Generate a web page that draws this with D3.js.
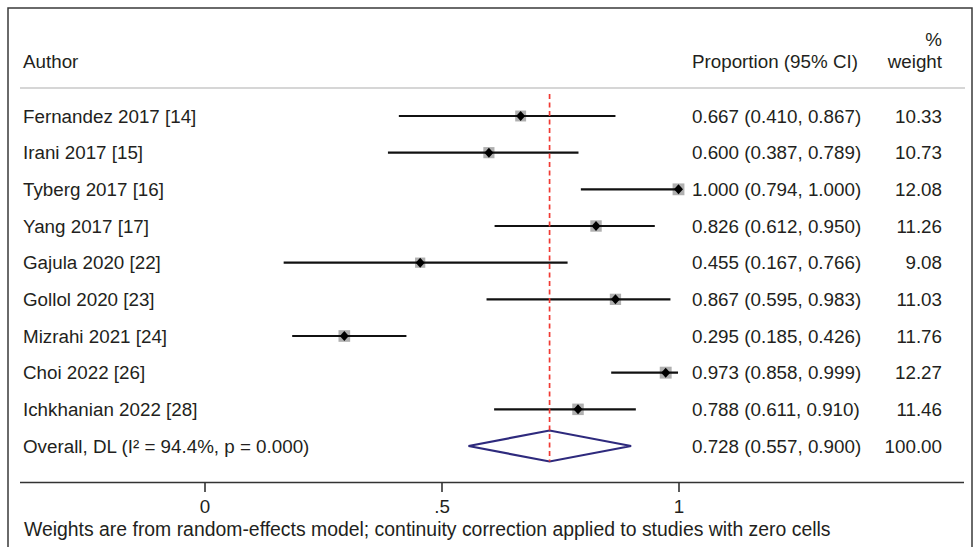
<!DOCTYPE html>
<html><head><meta charset="utf-8">
<script src="https://cdn.jsdelivr.net/npm/d3@7"></script>
<style>
body{margin:0;background:#fff;}
text{font-family:"Liberation Sans",Arial,sans-serif;fill:#231f20;}
</style></head>
<body><svg id="c" width="976" height="547"></svg>
<script>
const authors = ["Fernandez 2017 [14]","Irani 2017 [15]","Tyberg 2017 [16]","Yang 2017 [17]","Gajula 2020 [22]","Gollol 2020 [23]","Mizrahi 2021 [24]","Choi 2022 [26]","Ichkhanian 2022 [28]"];
const estimates = [0.667,0.600,1.000,0.826,0.455,0.867,0.295,0.973,0.788];
const lower = [0.410,0.387,0.794,0.612,0.167,0.595,0.185,0.858,0.611];
const upper = [0.867,0.789,1.000,0.950,0.766,0.983,0.426,0.999,0.910];
const weights = [10.33,10.73,12.08,11.26,9.08,11.03,11.76,12.27,11.46];
const overallLabel = "Overall, DL (I\u00B2 = 94.4%, p = 0.000)";
const overall = {est:0.728, lo:0.557, hi:0.900, w:100.00};
const xTicks = [0, 0.5, 1];
const xTickLabels = ["0", ".5", "1"];
const footnote = "Weights are from random-effects model; continuity correction applied to studies with zero cells";

const svg = d3.select("#c");
const fs = 18.8;
const f3 = d3.format(".3f"), f2 = d3.format(".2f");

// frame
svg.append("path").attr("d","M8,560 L8,8 L972,8 L972,560")
  .attr("fill","none").attr("stroke","#3a3a3a").attr("stroke-width",1.5);

const x = d3.scaleLinear().domain([0,1]).range([204.5,678.5]);
const rows = authors.map((a,i)=>i).concat(["overall"]);
const y = d3.scalePoint().domain(rows).range([116,446]);

// headers
svg.append("text").attr("x",23).attr("y",68.3).attr("font-size",fs).text("Author");
svg.append("text").attr("x",692).attr("y",68.3).attr("font-size",fs).text("Proportion (95% CI)");
svg.append("text").attr("x",942).attr("y",46).attr("font-size",fs).attr("text-anchor","end").text("%");
svg.append("text").attr("x",942).attr("y",68.3).attr("font-size",fs).attr("text-anchor","end").text("weight");
svg.append("line").attr("x1",20).attr("x2",965).attr("y1",88).attr("y2",88)
  .attr("stroke","#c8c8c8").attr("stroke-width",1.3);

// study rows
const g = svg.append("g");
authors.forEach((a,i)=>{
  const yy = y(i);
  g.append("text").attr("x",23).attr("y",yy+6.7).attr("font-size",fs).text(a);
  g.append("text").attr("x",692).attr("y",yy+6.7).attr("font-size",fs)
    .text(`${f3(estimates[i])} (${f3(lower[i])}, ${f3(upper[i])})`);
  g.append("text").attr("x",942).attr("y",yy+6.7).attr("font-size",fs).attr("text-anchor","end")
    .text(f2(weights[i]));
  const s = 3.4*Math.sqrt(weights[i]);
  g.append("rect").attr("x",x(estimates[i])-s/2).attr("y",yy-s/2).attr("width",s).attr("height",s)
    .attr("fill","#b0b0b0");
  g.append("line").attr("x1",x(lower[i])).attr("x2",x(upper[i])).attr("y1",yy).attr("y2",yy)
    .attr("stroke","#111").attr("stroke-width",2.1);
  const cx = x(estimates[i]);
  g.append("path").attr("d",`M${cx-4.5},${yy} L${cx},${yy-5} L${cx+4.5},${yy} L${cx},${yy+5} Z`)
    .attr("fill","#000");
});

// overall
const yo = y("overall");
svg.append("text").attr("x",23).attr("y",yo+6.7).attr("font-size",fs).text(overallLabel);
svg.append("text").attr("x",692).attr("y",yo+6.7).attr("font-size",fs)
  .text(`${f3(overall.est)} (${f3(overall.lo)}, ${f3(overall.hi)})`);
svg.append("text").attr("x",942).attr("y",yo+6.7).attr("font-size",fs).attr("text-anchor","end")
  .text(f2(overall.w));
svg.append("path")
  .attr("d",`M${x(overall.lo)},${yo} L${x(overall.est)},${yo-15.5} L${x(overall.hi)},${yo} L${x(overall.est)},${yo+15.5} Z`)
  .attr("fill","none").attr("stroke","#2e2a7d").attr("stroke-width",2.2);

// overall dashed line
svg.append("line").attr("x1",x(overall.est)).attr("x2",x(overall.est)).attr("y1",94).attr("y2",yo+15.5)
  .attr("stroke","#f03a33").attr("stroke-width",1.7).attr("stroke-dasharray","5,3.5");

// axis
const axisY = 482.5;
svg.append("line").attr("x1",20).attr("x2",964).attr("y1",axisY).attr("y2",axisY)
  .attr("stroke","#333").attr("stroke-width",1.6);
const axis = d3.axisBottom(x).tickValues(xTicks).tickFormat((d,i)=>xTickLabels[i]).tickSize(9.5).tickPadding(3);
const ag = svg.append("g").attr("transform",`translate(0,${axisY})`).call(axis);
ag.select(".domain").remove();
ag.selectAll(".tick line").attr("stroke","#333").attr("stroke-width",1.6);
ag.selectAll(".tick text").attr("font-size",fs).attr("font-family","Liberation Sans, Arial, sans-serif")
  .attr("fill","#231f20").attr("dy",null).attr("y",30);

svg.append("text").attr("x",24).attr("y",536).attr("font-size",19.4).text(footnote);
</script></body></html>
